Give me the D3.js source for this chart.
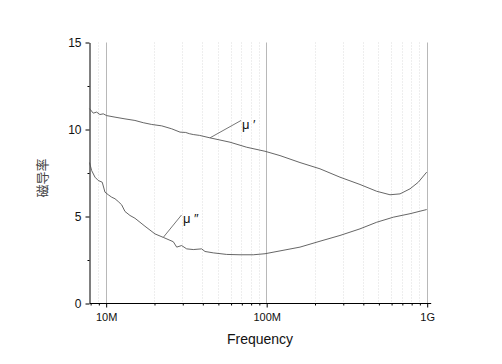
<!DOCTYPE html>
<html>
<head>
<meta charset="utf-8">
<script src="https://cdn.jsdelivr.net/npm/d3@7"></script>
<style>
  body { margin: 0; background: #fff; }
  svg { display: block; }
  text { font-family: Arial, "Liberation Sans", sans-serif; }
</style>
</head>
<body>
<svg id="chart" width="502" height="364"></svg>
<script>
// ---- data (frequency in MHz) ----
const muPrimeFreq = [7.93, 8.37, 8.79, 9.21, 9.66, 10.14, 11.43, 13.19, 15.22, 17.15, 19.35, 22.34, 25.78, 29.04, 31.5, 33.2, 35.14, 38.5, 44.65, 59.5, 75.6, 98.3, 121.9, 162.4, 216.4, 288.3, 384.1, 488.1, 590.6, 681.8, 787, 886.6, 1000];
const muPrime =     [11.2, 10.94, 11.00, 10.86, 10.90, 10.80, 10.71, 10.61, 10.52, 10.39, 10.29, 10.21, 10.04, 9.85, 9.83, 9.76, 9.71, 9.66, 9.52, 9.27, 8.98, 8.75, 8.50, 8.10, 7.74, 7.26, 6.84, 6.45, 6.25, 6.30, 6.59, 6.97, 7.55];

const muDoubleFreq = [7.93, 8.18, 8.58, 8.99, 9.52, 9.90, 10.38, 10.90, 11.43, 11.98, 12.58, 13.19, 14.17, 15.22, 16.36, 17.57, 18.88, 20.28, 22.85, 26.38, 27.70, 29.74, 31.96, 35.14, 39.64, 41.57, 46.82, 56.74, 68.68, 83.12, 98.3, 162.4, 216.4, 288.3, 384.1, 488.1, 619.3, 787, 1000];
const muDouble =     [8.1, 7.64, 7.26, 7.07, 6.97, 6.40, 6.25, 6.11, 6.02, 5.86, 5.67, 5.29, 5.06, 4.90, 4.67, 4.44, 4.22, 4.00, 3.80, 3.55, 3.24, 3.33, 3.14, 3.10, 3.14, 2.99, 2.91, 2.82, 2.80, 2.80, 2.86, 3.24, 3.58, 3.91, 4.29, 4.67, 4.96, 5.16, 5.40];

const xMajorTicks = [10, 100, 1000];
const xMajorLabels = ["10M", "100M", "1G"];
const xMinorTicks = [8, 9, 20, 30, 40, 50, 60, 70, 80, 90, 200, 300, 400, 500, 600, 700, 800, 900];
const yMajorTicks = [0, 5, 10, 15];
const yMinorTicks = [2.5, 7.5, 12.5];
const xTitle = "Frequency";
const yTitle = "磁导率";
const seriesLabels = ["μ ′", "μ ″"];

// ---- scales ----
const svg = d3.select("#chart");
const x = d3.scaleLog().domain([7.93, 1000]).range([89.5, 426.7]);
const y = d3.scaleLinear().domain([0, 15]).range([303.5, 42.5]);

// ---- grid ----
const grid = svg.append("g");
grid.selectAll("line.minor").data(xMinorTicks.filter(d => d > 8)).enter().append("line")
  .attr("x1", d => Math.round(x(d)) + 0.5).attr("x2", d => Math.round(x(d)) + 0.5)
  .attr("y1", y(15)).attr("y2", y(0))
  .attr("stroke", "#dcdcdc").attr("stroke-width", 1).attr("stroke-dasharray", "1,2");
grid.selectAll("line.major").data(xMajorTicks).enter().append("line")
  .attr("x1", d => Math.round(x(d)) + 0.5).attr("x2", d => Math.round(x(d)) + 0.5)
  .attr("y1", y(15)).attr("y2", y(0))
  .attr("stroke", "#b8b8b8").attr("stroke-width", 1);

// ---- axes ----
const xAxis = d3.axisBottom(x).tickValues(xMajorTicks)
  .tickFormat((d, i) => xMajorLabels[i]).tickSize(4).tickSizeOuter(0);
const gx = svg.append("g").attr("transform", `translate(0.5,${y(0)})`).call(xAxis);
gx.select(".domain").attr("d", `M${x(7.93)},0H${x(1000) + 4}`);
gx.selectAll("text").attr("font-size", 11).attr("dy", "0.95em").attr("fill", "#111").style("font-family", "Arial, 'Liberation Sans', sans-serif");
const xMinor = d3.axisBottom(x).tickValues(xMinorTicks).tickFormat("").tickSize(2).tickSizeOuter(0);
const gxm = svg.append("g").attr("transform", `translate(0.5,${y(0)})`).call(xMinor);
gxm.select(".domain").remove();

const yAxis = d3.axisLeft(y).tickValues(yMajorTicks).tickSize(4).tickSizeOuter(0).tickPadding(4);
const gy = svg.append("g").attr("transform", `translate(${x(7.93)},0)`).call(yAxis);
gy.selectAll("text").attr("font-size", 12).attr("fill", "#111").style("font-family", "Arial, 'Liberation Sans', sans-serif");
const yMinor = d3.axisLeft(y).tickValues(yMinorTicks).tickFormat("").tickSize(2).tickSizeOuter(0);
const gym = svg.append("g").attr("transform", `translate(${x(7.93)},0)`).call(yMinor);
gym.select(".domain").remove();

svg.selectAll(".domain, .tick line").attr("stroke", "#000");

// ---- titles ----
svg.append("text").attr("x", 260).attr("y", 344).attr("text-anchor", "middle")
  .attr("font-size", 14).attr("fill", "#111").text(xTitle);
svg.append("text").attr("transform", "translate(47,178) rotate(-90)").attr("text-anchor", "middle")
  .attr("font-size", 13).style("font-family", "'Noto Sans CJK SC', sans-serif").attr("fill", "#444").text(yTitle);

// ---- curves ----
const line = d3.line().x(d => x(d[0])).y(d => y(d[1]));
svg.append("path").datum(muPrimeFreq.map((f, i) => [f, muPrime[i]]))
  .attr("d", line).attr("fill", "none").attr("stroke", "#555").attr("stroke-width", 0.9);
svg.append("path").datum(muDoubleFreq.map((f, i) => [f, muDouble[i]]))
  .attr("d", line).attr("fill", "none").attr("stroke", "#555").attr("stroke-width", 0.9);

// ---- annotations ----
svg.append("line").attr("x1", x(44.65)).attr("y1", y(9.52)).attr("x2", 241).attr("y2", 120.5)
  .attr("stroke", "#666").attr("stroke-width", 0.9);
svg.append("text").attr("x", 242).attr("y", 129).attr("font-size", 13).attr("fill", "#111").text(seriesLabels[0]);
svg.append("line").attr("x1", x(22.85)).attr("y1", y(3.80)).attr("x2", 181.5).attr("y2", 215)
  .attr("stroke", "#666").attr("stroke-width", 0.9);
svg.append("text").attr("x", 183).attr("y", 223).attr("font-size", 13).attr("fill", "#111").text(seriesLabels[1]);
</script>
</body>
</html>
